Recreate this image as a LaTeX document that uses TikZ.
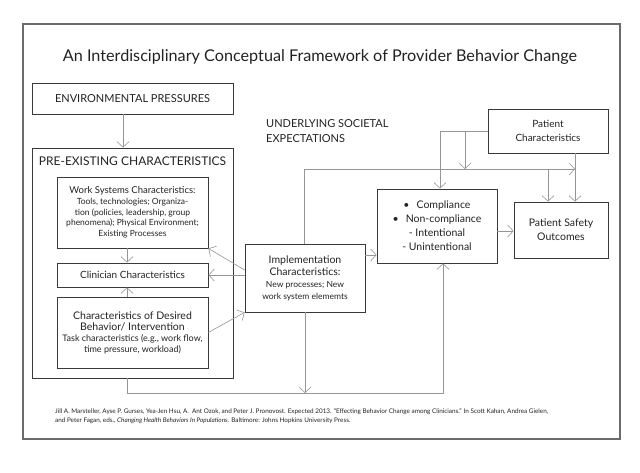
\documentclass[tikz,border=0pt]{standalone}
\usepackage{fontspec}
\setmainfont{Lato}
\usetikzlibrary{arrows.meta}

\definecolor{txtcol}{HTML}{222222}
\definecolor{boxcol}{HTML}{3A3A3A}
\definecolor{linkcol}{HTML}{959595}
\definecolor{framecol}{HTML}{6A6A6A}

\newcommand{\hdtext}[1]{{\fontsize{10.5}{12}\selectfont #1}}

\begin{document}
\begin{tikzpicture}[x=1pt, y=-1pt,
  box/.style={draw=boxcol, line width=0.8pt, align=center, inner sep=0pt, text=txtcol},
  plain/.style={align=left, inner sep=0pt, text=txtcol},
  arr/.style={draw=linkcol, line width=0.6pt,
    -{Straight Barb[length=5.5pt, width=12pt, line width=0.6pt]}}]

  % Parameters (pixel units, y grows downwards)
  \def\leftw{201}   % width of the left column boxes
  \def\innerw{151}  % width of the boxes inside pre-existing
  \def\midw{120}    % width of the middle boxes

  \useasboundingbox (0,0) rectangle (640,473);

  % --- Frame and title ---
  \draw[framecol, line width=1.5pt] (23,24) rectangle (620,439);
  \node[text=txtcol, font=\fontsize{16.2}{19}\selectfont] (title) at (320,57)
    {An Interdisciplinary Conceptual Framework of Provider Behavior Change};

  % --- Left column ---
  \node[box, minimum width=\leftw pt, minimum height=31pt,
    font=\fontsize{11}{13}\selectfont] (env) at (132.5,98.5) {ENVIRONMENTAL PRESSURES};
  \node[box, minimum width=\leftw pt, minimum height=230pt] (pre) at (132.5,263) {};
  \node[plain, font=\fontsize{12}{14}\selectfont] (prelabel) at (132.5,161)
    {PRE-EXISTING CHARACTERISTICS};

  \node[box, minimum width=\innerw pt, minimum height=71pt,
    font=\fontsize{8.5}{10.7}\selectfont] (work) at (132.5,212.5)
    {{\fontsize{9.5}{10.7}\selectfont Work Systems Characteristics:}\\
     Tools, technologies; Organiza-\\tion (policies, leadership, group\\
     phenomena); Physical Environment;\\Existing Processes};
  \node[box, minimum width=\innerw pt, minimum height=24pt,
    font=\fontsize{10}{12}\selectfont] (clin) at (132.5,275) {Clinician Characteristics};
  \node[box, minimum width=\innerw pt, minimum height=71pt,
    font=\fontsize{9}{11}\selectfont] (des) at (132.5,332.5)
    {\hdtext{Characteristics of Desired}\\\hdtext{Behavior/ Intervention}\\
     Task characteristics (e.g., work flow,\\time pressure, workload)};

  % --- Middle and right ---
  \node[plain, anchor=west, font=\fontsize{11}{15}\selectfont] (soc) at (266,131)
    {UNDERLYING SOCIETAL\\EXPECTATIONS};
  \node[box, minimum width=\midw pt, minimum height=68pt,
    font=\fontsize{8.5}{12}\selectfont] (impl) at (305,278)
    {\hdtext{Implementation}\\\hdtext{Characteristics:}\\New processes; New\\work system elememts};
  \node[box, minimum width=\midw pt, minimum height=74pt,
    font=\fontsize{10.5}{14}\selectfont] (comp) at (437,226)
    {\textbullet\hspace{7pt}Compliance\\\textbullet\hspace{7pt}Non-compliance\\- Intentional\\- Unintentional};
  \node[box, minimum width=94pt, minimum height=56pt,
    font=\fontsize{10.5}{14}\selectfont] (ps) at (561,230) {Patient Safety\\Outcomes};
  \node[box, minimum width=\midw pt, minimum height=44pt,
    font=\fontsize{10}{14}\selectfont] (pc) at (548,131) {Patient\\Characteristics};

  % junctions of the long runs
  \coordinate (toprun) at (575,169);
  \coordinate (botrun) at (443,393);
  \coordinate (pcfork) at (465,131);

  % --- Connectors, left column ---
  \draw[arr] ([xshift=-9.5pt]env.south) -- ([xshift=-9.5pt]pre.north);
  \draw[arr] ([xshift=-5.5pt]work.south) -- ([xshift=-5.5pt]clin.north);
  \draw[arr] ([xshift=-5.5pt]des.north) -- ([xshift=-5.5pt]clin.south);

  % implementation to and from the left
  \draw[arr] ([yshift=8pt]impl.west) -- (work.south east);
  \draw[arr] (clin.east -| impl.west) -- (clin.east);
  \draw[arr] (des.east) -- (impl.south west);

  % --- Connectors, right side ---
  \draw[arr] ([yshift=23pt]impl.east) -- ([yshift=23pt]impl.east -| comp.west);
  \draw[arr] ([yshift=-5pt]comp.east) -- ([yshift=-5pt]comp.east -| ps.west);
  \draw[arr] ([xshift=-1pt]impl.north) |- (toprun);
  \draw[arr] ([xshift=-13pt]ps.north |- toprun) -- ([xshift=-13pt]ps.north);
  \draw[arr] (pc.south -| toprun) -- (ps.north -| toprun);
  \draw[arr] (pc.west) -| ([xshift=3pt]comp.north);
  \draw[arr] (pcfork) -- (pcfork |- toprun);

  % feedback along the bottom
  \draw[arr] ([xshift=-5.5pt]pre.south) |- (botrun) -- (botrun |- comp.south);
  \draw[arr] (impl.south) -- (impl.south |- botrun);

  % --- Citation ---
  \node[plain, anchor=west, font=\fontsize{6.35}{9}\selectfont] (cite) at (55,416.5)
    {Jill A. Marsteller, Ayse P. Gurses, Yea-Jen Hsu, A.\ \ Ant Ozok, and Peter J. Pronovost. Expected 2013. “Effecting Behavior Change among Clinicians.” In Scott Kahan, Andrea Gielen,\\
     and Peter Fagan, eds., \textit{Changing Health Behaviors In Populations}. Baltimore: Johns Hopkins University Press.};
\end{tikzpicture}
\end{document}
